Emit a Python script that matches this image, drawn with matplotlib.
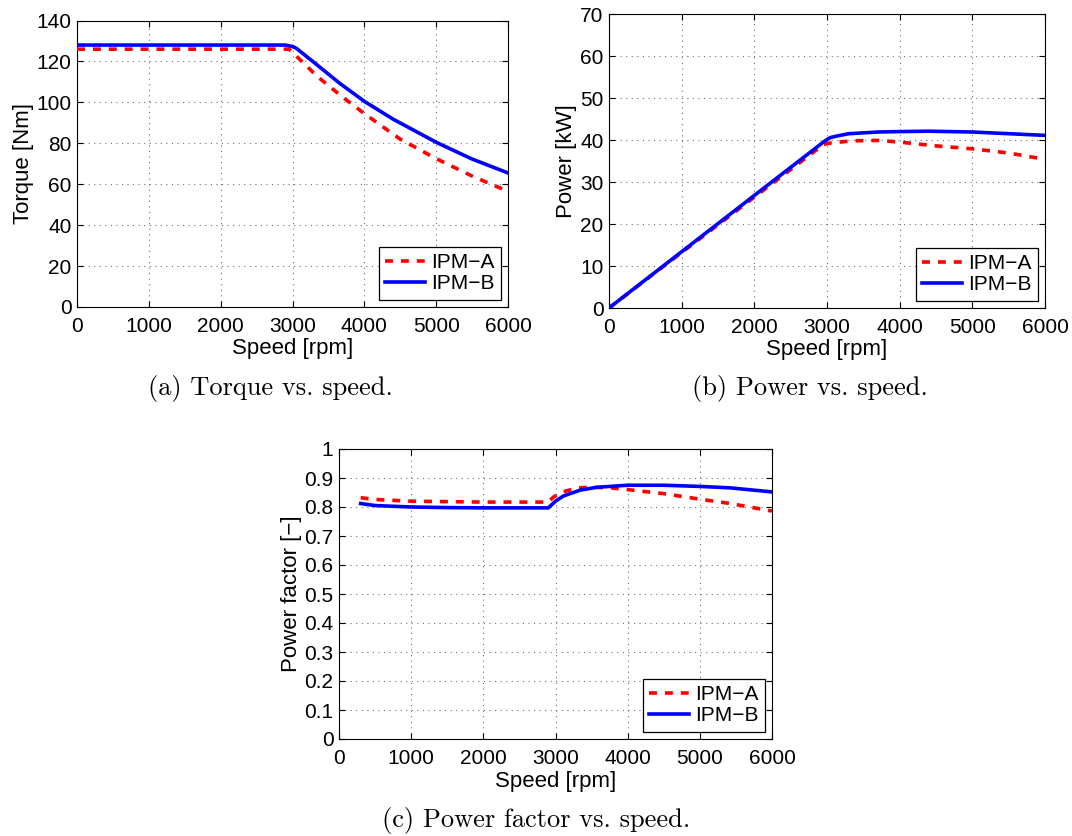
import matplotlib
matplotlib.use('Agg')
import matplotlib.pyplot as plt
from matplotlib.ticker import MultipleLocator, FuncFormatter

# ---------------- data ----------------
speed_torque_A = [0, 1000, 2000, 2950, 3000, 3100, 3350, 3700, 4000, 4500, 5000, 5500, 6000]
torque_A = [126, 126, 126, 126, 124.5, 121, 112.5, 102.5, 94.5, 82, 72.5, 64, 56.5]

speed_torque_B = [0, 1000, 2000, 2900, 3000, 3050, 3300, 3650, 4000, 4400, 5000, 5500, 6000]
torque_B = [128, 128, 128, 128, 127.3, 126.5, 119.5, 109.5, 100.5, 91.8, 80.5, 72.3, 65.5]

speed_power_A = [0, 1000, 2000, 2950, 3050, 3350, 3700, 4000, 4500, 5000, 5500, 6000]
power_A = [0, 13.2, 26.4, 38.9, 39.3, 39.8, 39.9, 39.5, 38.6, 37.9, 36.9, 35.4]

speed_power_B = [0, 1000, 2000, 2950, 3000, 3050, 3150, 3300, 3700, 4000, 4400, 5000, 5500, 6000]
power_B = [0, 13.4, 26.8, 39.5, 40.1, 40.6, 41.0, 41.5, 41.9, 42.0, 42.1, 41.9, 41.5, 41.1]

speed_pf_A = [300, 500, 1000, 2000, 2900, 2970, 3100, 3300, 3500, 3770, 4000, 4500, 5000, 5420, 6000]
pf_A = [0.832, 0.826, 0.820, 0.817, 0.817, 0.834, 0.852, 0.866, 0.868, 0.866, 0.860, 0.846, 0.827, 0.812, 0.786]

speed_pf_B = [300, 500, 1000, 1500, 2000, 2500, 2900, 3000, 3110, 3340, 3570, 4000, 4500, 5000, 5420, 6000]
pf_B = [0.812, 0.805, 0.800, 0.798, 0.797, 0.797, 0.797, 0.820, 0.838, 0.858, 0.868, 0.875, 0.875, 0.871, 0.866, 0.852]

labels = ['IPM\u2212A', 'IPM\u2212B']
captions = ['(a) Torque vs. speed.', '(b) Power vs. speed.', '(c) Power factor vs. speed.']

# ---------------- styling ----------------
plt.rcParams['font.family'] = ['Liberation Sans', 'DejaVu Sans']
TICK_FS = 15
LABEL_FS = 16
RED = '#ff0000'
BLUE = '#0000ff'
LW = 2.6

W, H = 1072, 836
fig = plt.figure(figsize=(W / 100, H / 100), dpi=100)


def axes_px(l, t, r, b):
    return fig.add_axes([l / W, 1 - b / H, (r - l) / W, (b - t) / H])


def style(ax, ymax, ystep, ylabel):
    ax.set_xlim(0, 6000)
    ax.set_ylim(0, ymax)
    ax.xaxis.set_major_locator(MultipleLocator(1000))
    ax.yaxis.set_major_locator(MultipleLocator(ystep))
    ax.tick_params(direction='in', top=True, right=True, length=4.5, width=0.8,
                   labelsize=TICK_FS)
    ax.tick_params(axis='x', pad=7)
    ax.tick_params(axis='y', pad=4)
    ax.grid(True, color='0.45', linestyle=(0, (1, 4)), linewidth=0.8)
    for s in ax.spines.values():
        s.set_linewidth(0.8)
    ax.set_xlabel('Speed [rpm]', fontsize=LABEL_FS, labelpad=2)
    ax.set_ylabel(ylabel, fontsize=LABEL_FS, labelpad=2)


def draw(ax, xa, ya, xb, yb):
    ax.plot(xa, ya, color=RED, lw=LW, dashes=(2.2, 2.2), label=labels[0], zorder=3)
    ax.plot(xb, yb, color=BLUE, lw=LW, label=labels[1], zorder=4)
    leg = ax.legend(loc='lower right', fontsize=TICK_FS, frameon=True, fancybox=False,
                    edgecolor='black', framealpha=1, handlelength=1.9,
                    handletextpad=0.3, labelspacing=0.1, borderpad=0.3,
                    borderaxespad=0.35)
    leg.get_frame().set_linewidth(0.9)
    leg.set_zorder(10)


ax1 = axes_px(77, 20.5, 508, 307)
draw(ax1, speed_torque_A, torque_A, speed_torque_B, torque_B)
style(ax1, 140, 20, 'Torque [Nm]')

ax2 = axes_px(609, 14, 1045, 308)
draw(ax2, speed_power_A, power_A, speed_power_B, power_B)
style(ax2, 70, 10, 'Power [kW]')

ax3 = axes_px(339, 449, 772, 739)
draw(ax3, speed_pf_A, pf_A, speed_pf_B, pf_B)
style(ax3, 1, 0.1, 'Power factor [\u2212]')
ax3.yaxis.set_major_formatter(FuncFormatter(
    lambda v, p: '0' if abs(v) < 1e-9 else ('1' if abs(v - 1) < 1e-9 else f'{v:.1f}')))

cap_kw = dict(fontsize=19, family='cmr10', ha='center', va='center')
fig.text(270 / W, 1 - 389 / H, captions[0], **cap_kw)
fig.text(810 / W, 1 - 389 / H, captions[1], **cap_kw)
fig.text(536 / W, 1 - 821 / H, captions[2], **cap_kw)

fig.savefig('out.png', dpi=100)
